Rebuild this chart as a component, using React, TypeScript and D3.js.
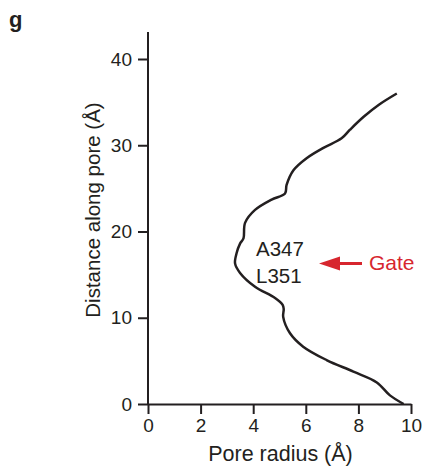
import React, { useRef, useEffect } from "react";
import * as d3 from "d3";

// pore profile (distance along pore vs radius, both in Å)
const distance = [0, 1.0, 2.5, 3.75, 5.1, 6.65, 8.2, 10.1, 11.0, 11.5, 12.3, 13.6, 15.2, 16.3, 17.5, 18.6, 19.2, 21.0, 22.5, 23.7, 24.4, 25.4, 27.1, 28.5, 29.7, 30.8, 31.8, 33.3, 34.7, 36.0];
const radius = [9.72, 9.2, 8.7, 7.81, 6.79, 5.9, 5.4, 5.14, 5.16, 5.12, 4.83, 4.07, 3.5, 3.31, 3.37, 3.5, 3.63, 3.69, 4.07, 4.7, 5.21, 5.27, 5.53, 6.03, 6.67, 7.36, 7.68, 8.2, 8.78, 9.46];

const xTicks = [0, 2, 4, 6, 8, 10];
const yTicks = [0, 10, 20, 30, 40];
const residues = ["A347", "L351"];
const gateLabel = "Gate";

const ink = "#231f20";
const red = "#d7262e";
const font = "'Liberation Sans', Arial, sans-serif";

const App = () => {
  const ref = useRef<SVGSVGElement>(null);

  useEffect(() => {
    const width = 425;
    const height = 467;
    const x = d3.scaleLinear().domain([0, 10]).range([148, 411]);
    const y = d3.scaleLinear().domain([0, 40]).range([404, 59]);
    const yTop = 32;

    const svg = d3.select(ref.current);
    svg.selectAll("*").remove();
    svg.attr("width", width).attr("height", height);

    // panel letter
    svg.append("text")
      .attr("x", 9).attr("y", 27)
      .attr("font-family", font).attr("font-size", 22).attr("font-weight", "bold")
      .attr("fill", ink)
      .text("g");

    // x axis
    const gx = svg.append("g")
      .attr("transform", `translate(0,${y(0)})`)
      .call(d3.axisBottom(x).tickValues(xTicks).tickSize(10).tickPadding(5).tickSizeOuter(0));
    gx.select(".domain").attr("stroke", ink).attr("stroke-width", 2);
    gx.selectAll(".tick line").attr("stroke", ink).attr("stroke-width", 2);
    gx.selectAll(".tick text").attr("font-family", font).attr("font-size", 19).attr("fill", ink);

    // y axis
    const gy = svg.append("g")
      .attr("transform", `translate(${x(0)},0)`)
      .call(d3.axisLeft(y).tickValues(yTicks).tickSize(10).tickPadding(6).tickSizeOuter(0));
    gy.select(".domain").attr("d", `M0,${y(0)}V${yTop}`).attr("stroke", ink).attr("stroke-width", 2);
    gy.selectAll(".tick line").attr("stroke", ink).attr("stroke-width", 2);
    gy.selectAll(".tick text").attr("font-family", font).attr("font-size", 19).attr("fill", ink);

    // axis titles
    svg.append("text")
      .attr("x", (x(0) + x(10)) / 2 + 1).attr("y", 461)
      .attr("text-anchor", "middle")
      .attr("font-family", font).attr("font-size", 21.5).attr("fill", ink)
      .text("Pore radius (Å)");

    svg.append("text")
      .attr("transform", `translate(100,210) rotate(-90)`)
      .attr("text-anchor", "middle")
      .attr("font-family", font).attr("font-size", 20.5).attr("fill", ink)
      .text("Distance along pore (Å)");

    // profile
    const pts = distance.map((d, i) => [radius[i], d] as [number, number]);
    const line = d3.line<[number, number]>()
      .x(d => x(d[0]))
      .y(d => y(d[1]))
      .curve(d3.curveCatmullRom.alpha(0.5));
    svg.append("path")
      .attr("d", line(pts))
      .attr("fill", "none")
      .attr("stroke", ink)
      .attr("stroke-width", 2.5)
      .attr("stroke-linejoin", "round");

    // gate annotation
    svg.selectAll(".res")
      .data(residues)
      .join("text")
      .attr("class", "res")
      .attr("x", 256)
      .attr("y", (d, i) => 256 + i * 27)
      .attr("font-family", font).attr("font-size", 20.5).attr("fill", ink)
      .text(d => d);

    const ay = 263.5;
    svg.append("line")
      .attr("x1", 362).attr("x2", 336)
      .attr("y1", ay).attr("y2", ay)
      .attr("stroke", red).attr("stroke-width", 3);
    svg.append("path")
      .attr("d", `M319,${ay}L340,${ay - 7}L340,${ay + 7}Z`)
      .attr("fill", red);
    svg.append("text")
      .attr("x", 369).attr("y", 270)
      .attr("font-family", font).attr("font-size", 21).attr("fill", red)
      .text(gateLabel);
  }, []);

  return (
    <svg ref={ref} style={{ position: "absolute", left: 0, top: 0, background: "#fff" }} />
  );
};

export default App;
